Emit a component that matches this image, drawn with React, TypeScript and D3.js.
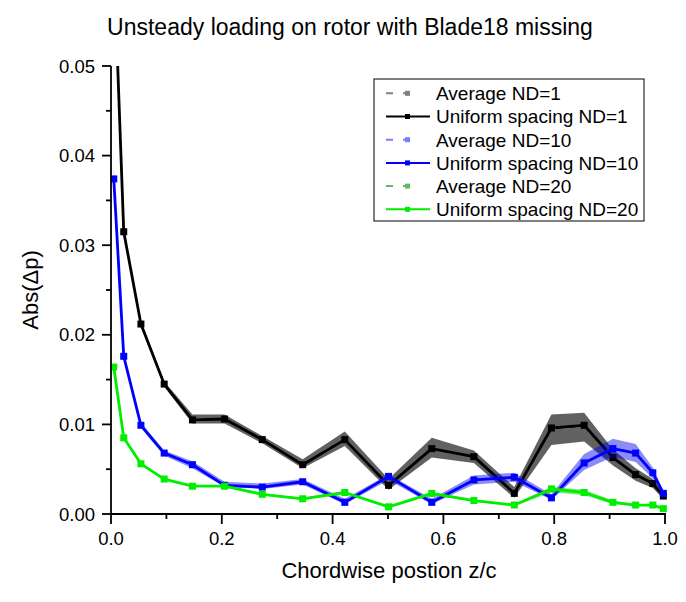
import React from "react";
import * as d3 from "d3";

const xPos = [0.005, 0.023, 0.054, 0.096, 0.147, 0.205, 0.273, 0.346, 0.422, 0.501, 0.579, 0.655, 0.728, 0.795, 0.854, 0.906, 0.947, 0.978, 0.997];

const uniformND1 = [0.062, 0.0315, 0.0212, 0.0145, 0.0105, 0.0106, 0.0083, 0.0055, 0.0083, 0.0032, 0.0073, 0.0064, 0.0023, 0.0096, 0.0099, 0.0063, 0.0044, 0.0034, 0.002];
const averageND1 = [0.062, 0.0315, 0.0212, 0.0145, 0.0106, 0.0106, 0.0083, 0.0056, 0.0084, 0.0033, 0.0074, 0.0064, 0.0024, 0.0094, 0.0097, 0.0063, 0.0044, 0.0034, 0.002];
const spreadND1 = [0.0005, 0.0003, 0.0003, 0.0003, 0.0005, 0.0005, 0.0004, 0.0005, 0.0008, 0.0006, 0.0011, 0.0007, 0.0006, 0.0017, 0.0016, 0.0009, 0.0007, 0.0005, 0.0003];

const uniformND10 = [0.0374, 0.0176, 0.0099, 0.0068, 0.0055, 0.0032, 0.003, 0.0036, 0.0013, 0.0042, 0.0013, 0.0038, 0.0041, 0.0018, 0.0057, 0.0073, 0.0068, 0.0046, 0.0023];
const averageND10 = [0.0374, 0.0176, 0.0099, 0.0068, 0.0055, 0.0033, 0.0031, 0.0036, 0.0014, 0.0041, 0.0014, 0.0038, 0.0041, 0.0019, 0.0058, 0.0074, 0.0068, 0.0046, 0.0023];
const spreadND10 = [0.0012, 0.0003, 0.0003, 0.0003, 0.0004, 0.0003, 0.0003, 0.0003, 0.0003, 0.0003, 0.0003, 0.0005, 0.0005, 0.0003, 0.0009, 0.001, 0.001, 0.0006, 0.0003];

const uniformND20 = [0.0164, 0.0085, 0.0056, 0.0039, 0.0031, 0.0031, 0.0022, 0.0017, 0.0024, 0.0008, 0.0023, 0.0015, 0.001, 0.0028, 0.0024, 0.0013, 0.001, 0.001, 0.0006];
const averageND20 = [0.0164, 0.0085, 0.0056, 0.0039, 0.0031, 0.0031, 0.0022, 0.0017, 0.0024, 0.0008, 0.0022, 0.0015, 0.001, 0.0027, 0.0024, 0.0013, 0.001, 0.001, 0.0006];
const spreadND20 = [0.0002, 0.0001, 0.0001, 0.0001, 0.0001, 0.0001, 0.0001, 0.0001, 0.0001, 0.0001, 0.0001, 0.0001, 0.0001, 0.0003, 0.0003, 0.0002, 0.0001, 0.0001, 0.0001];

const xTicks = [0, 0.2, 0.4, 0.6, 0.8, 1.0];
const xMinorTicks = [0.1, 0.3, 0.5, 0.7, 0.9];
const yTicks = [0, 0.01, 0.02, 0.03, 0.04, 0.05];
const yMinorTicks = [0.005, 0.015, 0.025, 0.035, 0.045];

const legendLabels = [
  "Average ND=1",
  "Uniform spacing ND=1",
  "Average ND=10",
  "Uniform spacing ND=10",
  "Average ND=20",
  "Uniform spacing ND=20",
];

const FONT = "Liberation Sans, Arial, sans-serif";

export default function App() {
  const left = 111, right = 665, top = 66, bottom = 514;
  const x = d3.scaleLinear().domain([0, 1]).range([left, right]);
  const y = d3.scaleLinear().domain([0, 0.05]).range([bottom, top]);

  const idx = xPos.map((_, i) => i);
  const line = (vals: number[]) =>
    d3.line<number>().x((i) => x(xPos[i])).y((i) => y(vals[i])).curve(d3.curveLinear)(idx) || "";
  const area = (vals: number[], spread: number[]) =>
    d3
      .area<number>()
      .x((i) => x(xPos[i]))
      .y0((i) => y(vals[i] - spread[i]))
      .y1((i) => y(vals[i] + spread[i]))
      .curve(d3.curveLinear)(idx) || "";

  const groups = [
    { avg: averageND1, uni: uniformND1, spread: spreadND1, color: "#000000", band: "rgba(0,0,0,0.62)", avgColor: "#808080" },
    { avg: averageND10, uni: uniformND10, spread: spreadND10, color: "#0000ff", band: "rgba(0,0,230,0.45)", avgColor: "#7b7bff" },
    { avg: averageND20, uni: uniformND20, spread: spreadND20, color: "#00ee00", band: "rgba(0,200,0,0.45)", avgColor: "#66b866" },
  ];

  const ms = 7;
  const legendX = 374, legendY = 79, legendW = 270, legendH = 142;
  const rowY = (i: number) => 93.3 + i * 23.2;

  return (
    <svg width={686} height={602} style={{ display: "block", position: "absolute", left: 0, top: 0 }} fontFamily={FONT}>
      <rect x={0} y={0} width={686} height={602} fill="#ffffff" />
      <defs>
        <clipPath id="plotClip">
          <rect x={left} y={top} width={right - left + 6} height={bottom - top} />
        </clipPath>
      </defs>

      <text x={350} y={35} fontSize={23} textAnchor="middle" fill="#000">
        Unsteady loading on rotor with Blade18 missing
      </text>

      <g clipPath="url(#plotClip)">
        {groups.map((g, gi) => (
          <g key={gi}>
            <path d={area(g.avg, g.spread)} fill={g.band} stroke="none" strokeLinejoin="round" />
            <path d={line(g.avg)} fill="none" stroke={g.avgColor} strokeWidth={1.5} strokeDasharray="7,6" />
            <path d={line(g.uni)} fill="none" stroke={g.color} strokeWidth={2.8} strokeLinejoin="round" />
            {idx.map((i) => (
              <rect key={i} x={x(xPos[i]) - ms / 2} y={y(g.uni[i]) - ms / 2} width={ms} height={ms} fill={g.color} />
            ))}
          </g>
        ))}
      </g>

      {/* axes */}
      <g stroke="#000" strokeWidth={1.8}>
        <line x1={left} y1={top} x2={left} y2={bottom + 1} />
        <line x1={left - 1} y1={bottom} x2={right + 1} y2={bottom} />
        {yTicks.map((t) => (
          <line key={"yt" + t} x1={left - 9} x2={left} y1={y(t)} y2={y(t)} />
        ))}
        {yMinorTicks.map((t) => (
          <line key={"ym" + t} x1={left - 5} x2={left} y1={y(t)} y2={y(t)} />
        ))}
        {xTicks.map((t) => (
          <line key={"xt" + t} x1={x(t)} x2={x(t)} y1={bottom} y2={bottom + 10} />
        ))}
        {xMinorTicks.map((t) => (
          <line key={"xm" + t} x1={x(t)} x2={x(t)} y1={bottom} y2={bottom + 5} />
        ))}
      </g>
      {yTicks.map((t) => (
        <text key={"yl" + t} x={95} y={y(t) + 6.5} fontSize={18.5} textAnchor="end" fill="#000">
          {d3.format(".2f")(t)}
        </text>
      ))}
      {xTicks.map((t) => (
        <text key={"xl" + t} x={x(t)} y={545} fontSize={18.5} textAnchor="middle" fill="#000">
          {d3.format(".1f")(t)}
        </text>
      ))}

      <text x={389} y={578} fontSize={22} textAnchor="middle" fill="#000">
        Chordwise postion z/c
      </text>
      <text transform={`translate(38, ${(top + bottom) / 2}) rotate(-90)`} fontSize={22} textAnchor="middle" fill="#000">
        Abs(Δp)
      </text>

      {/* legend */}
      <rect x={legendX} y={legendY} width={legendW} height={legendH} fill="#fff" stroke="#000" strokeWidth={1} />
      {legendLabels.map((lab, i) => {
        const g = groups[Math.floor(i / 2)];
        const isAvg = i % 2 === 0;
        const cy = rowY(i);
        return (
          <g key={lab}>
            {isAvg ? (
              <>
                <line x1={386} x2={418} y1={cy} y2={cy} stroke={g.avgColor} strokeWidth={2} strokeDasharray="7,10" />
                <rect x={405} y={cy - 2.5} width={5} height={5} fill={g.avgColor} opacity={1} />
              </>
            ) : (
              <>
                <line x1={386} x2={430} y1={cy} y2={cy} stroke={g.color} strokeWidth={2} />
                <rect x={405} y={cy - 2.5} width={5} height={5} fill={g.color} />
              </>
            )}
            <text x={436} y={cy + 6.8} fontSize={19} fill="#000">
              {lab}
            </text>
          </g>
        );
      })}
    </svg>
  );
}
